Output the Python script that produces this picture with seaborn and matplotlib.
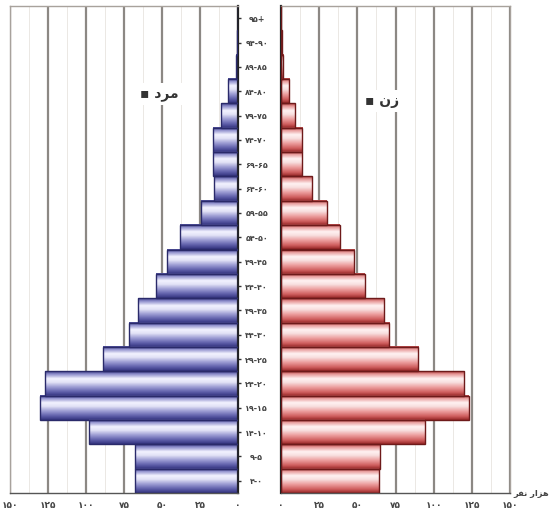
import numpy as np
import pandas as pd
import matplotlib
matplotlib.use("Agg")
import matplotlib.pyplot as plt
from matplotlib.colors import LinearSegmentedColormap
from matplotlib.ticker import MultipleLocator
import seaborn as sns

# age groups, youngest first (labels written in visual order)
ages = ["۴-۰", "۹-۵", "۱۴-۱۰", "۱۹-۱۵", "۲۴-۲۰", "۲۹-۲۵", "۳۴-۳۰", "۳۹-۳۵",
        "۴۴-۴۰", "۴۹-۴۵", "۵۴-۵۰", "۵۹-۵۵", "۶۴-۶۰", "۶۹-۶۵", "۷۴-۷۰",
        "۷۹-۷۵", "۸۴-۸۰", "۸۹-۸۵", "۹۴-۹۰", "۹۵+"]

# population in thousands
male = [68, 68, 98, 130, 127, 89, 72, 66, 54, 47, 38, 24.5, 16, 16.5, 16.5,
        11, 6.5, 1.5, 0.5, 0.2]
female = [64, 65, 94, 123, 120, 90, 71, 67.5, 55, 48, 38.6, 30, 20, 14, 14,
          9, 5.5, 1.5, 0.5, 0.2]

x_ticks = [0, 25, 50, 75, 100, 125, 150]
x_tick_labels = ["۰", "۲۵", "۵۰", "۷۵", "۱۰۰", "۱۲۵", "۱۵۰"]

# pre-shaped Persian words (visual order, presentation forms)
male_label = "\u25aa \uFEA9\uFEAE\uFEE3"          # مرد
female_label = "\u25aa \uFEE5\uFEAF"              # زن
unit_label = "\uFEAE\uFED4\uFEE7 \uFEAD\uFE8D\uFEB0\uFEEB"   # هزار نفر

df = pd.DataFrame({"age": ages, "male": male, "female": female})
order = ages[::-1]

sns.set_style("white")
plt.rcParams["font.family"] = ["DejaVu Sans"]

fig = plt.figure(figsize=(5.52, 5.15), dpi=100)
W, H = 552, 515
ax_l = fig.add_axes([10 / W, 22 / H, 228 / W, 487 / H])
ax_r = fig.add_axes([281 / W, 22 / H, 229 / W, 487 / H])

male_cmap = LinearSegmentedColormap.from_list(
    "m", [(0, "#44448f"), (0.12, "#9090cc"), (0.3, "#f2f2ff"),
          (0.45, "#e2e2f6"), (0.65, "#9a9ad2"), (0.85, "#5c5ca8"),
          (1, "#34347e")])
female_cmap = LinearSegmentedColormap.from_list(
    "f", [(0, "#b04040"), (0.12, "#e89a9a"), (0.3, "#fff2f2"),
          (0.45, "#f8e0e0"), (0.65, "#ec9e9e"), (0.85, "#d06060"),
          (1, "#982828")])
grad = np.linspace(0, 1, 64).reshape(-1, 1)


def draw_side(ax, col, cmap, edge):
    sns.barplot(data=df, y="age", x=col, order=order, orient="h",
                width=1.0, color="white", edgecolor=edge, linewidth=1.0,
                ax=ax, zorder=3)
    yl = ax.get_ylim()
    # gradient fill inside each bar
    for p in ax.patches:
        x0, y0 = p.get_x(), p.get_y()
        w, h = p.get_width(), p.get_height()
        p.set_facecolor("none")
        ax.imshow(grad, cmap=cmap, extent=(x0, x0 + w, y0 + h, y0),
                  origin="upper", aspect="auto", zorder=2,
                  interpolation="bilinear")
    ax.set_ylim(yl)


draw_side(ax_l, "male", male_cmap, "#2a2a6a")
draw_side(ax_r, "female", female_cmap, "#6e1a1a")

for ax in (ax_l, ax_r):
    ax.set_axisbelow(True)
    ax.xaxis.set_major_locator(MultipleLocator(25))
    ax.xaxis.set_minor_locator(MultipleLocator(12.5))
    ax.grid(True, axis="x", which="major", color="#8c8884", linewidth=1.6)
    ax.grid(True, axis="x", which="minor", color="#ebe8e4", linewidth=0.7)
    ax.set_xticks(x_ticks)
    ax.set_xticklabels(x_tick_labels, fontsize=6.5, color="#444444",
                       fontweight="bold")
    ax.tick_params(axis="x", which="major", direction="out", length=3,
                   width=1, color="#555555", pad=3)
    ax.tick_params(axis="x", which="minor", length=0)
    ax.set_xlabel("")
    ax.set_ylabel("")
    for s in ax.spines.values():
        s.set_color("#a8a29c")
        s.set_linewidth(1.0)
    ax.spines["bottom"].set_color("#555555")

ax_l.set_xlim(150, 0)
ax_r.set_xlim(0, 150)

# left panel: zero axis on the right, no labels
ax_l.yaxis.tick_right()
ax_l.set_yticklabels([])
ax_l.spines["right"].set_color("#222222")
ax_l.spines["right"].set_linewidth(1.6)
ax_l.tick_params(axis="y", direction="out", length=2, width=1,
                 color="#333333")

# right panel: age labels centered in the gap
ax_r.spines["left"].set_color("#222222")
ax_r.spines["left"].set_linewidth(1.6)
ax_r.tick_params(axis="y", direction="out", length=2, width=1,
                 color="#333333", pad=15.5, labelsize=5.8)
for t in ax_r.get_yticklabels():
    t.set_ha("center")
    t.set_fontweight("bold")
    t.set_color("#444444")

fig.text(159 / W, 1 - 94 / H, male_label, ha="center", va="center",
         fontsize=10, fontweight="bold", color="#333333",
         bbox=dict(fc="white", ec="none", pad=3))
fig.text(382 / W, 1 - 101 / H, female_label, ha="center", va="center",
         fontsize=10, fontweight="bold", color="#333333",
         bbox=dict(fc="white", ec="none", pad=3))
fig.text(549 / W, 1 - 493 / H, unit_label, ha="right", va="center",
         fontsize=6, fontweight="bold", color="#444444")

fig.savefig("out.png", dpi=100, facecolor="white")
